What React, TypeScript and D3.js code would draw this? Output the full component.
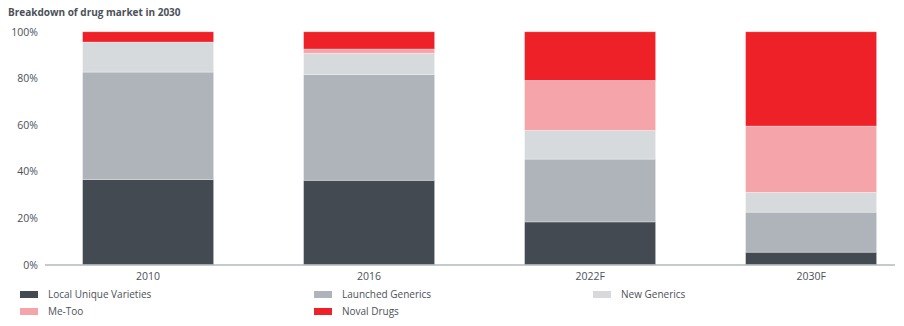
import React from "react";
import * as d3 from "d3";

const categories = ["2010", "2016", "2022F", "2030F"];
const seriesNames = ["Local Unique Varieties", "Launched Generics", "New Generics", "Me-Too", "Noval Drugs"];
const localUnique = [36.5, 36.2, 18.3, 5.3];
const launchedGenerics = [46.2, 45.5, 27.0, 17.2];
const newGenerics = [12.9, 9.1, 12.3, 8.5];
const meToo = [0, 1.8, 21.5, 28.5];
const novalDrugs = [4.4, 7.4, 20.9, 40.5];
const yTicks = [0, 20, 40, 60, 80, 100];
const colors = ["#444a52", "#aeb4ba", "#d7dadd", "#f5a4aa", "#ee2128"];

const W = 904, H = 326;
const font = "'Open Sans', 'Noto Sans', sans-serif";

export default function App() {
  const rows = categories.map((c, i) => ({
    cat: c,
    s0: localUnique[i], s1: launchedGenerics[i], s2: newGenerics[i], s3: meToo[i], s4: novalDrugs[i],
  }));
  const keys = ["s0", "s1", "s2", "s3", "s4"];
  const stacked = d3.stack<any>().keys(keys)(rows);
  const x = d3.scaleBand().domain(categories).range([37.6, 921.6]).paddingInner(0.407).paddingOuter(0.2035);
  const y = d3.scaleLinear().domain([0, 100]).range([264.5, 31.8]);
  const legendPos = [[20, 294], [314, 294], [593, 294], [20, 311], [314, 311]];
  return (
    <svg width={W} height={H} style={{ position: "absolute", left: 0, top: 0 }}>
      <text x={8} y={16} fontFamily={font} fontSize={10} fontWeight={700} fill="#4b5159">Breakdown of drug market in 2030</text>
      {yTicks.map(t => (
        <text key={t} x={38} y={y(t) + 4} textAnchor="end" fontFamily={font} fontSize={10.5} fill="#4b5159">{t}%</text>
      ))}
      {stacked.map((layer, li) => (
        <g key={li}>
          {layer.map((d, i) => {
            const h = y(d[0]) - y(d[1]);
            if (h <= 0) return null;
            return (
              <rect key={i} x={x(categories[i])} y={y(d[1])} width={x.bandwidth()} height={h}
                fill={colors[li]} stroke="#ffffff" strokeOpacity={0.5} strokeWidth={0.6} />
            );
          })}
        </g>
      ))}
      <line x1={45} x2={895} y1={y(0) + 0.5} y2={y(0) + 0.5} stroke="#8d949b" strokeWidth={1.2} />
      {categories.map(c => (
        <text key={c} x={(x(c) as number) + x.bandwidth() / 2} y={280} textAnchor="middle" fontFamily={font} fontSize={10.5} fill="#4b5159">{c}</text>
      ))}
      {seriesNames.map((n, i) => (
        <g key={n}>
          <rect x={legendPos[i][0]} y={legendPos[i][1] - 3} width={18} height={7} fill={colors[i]} />
          <text x={legendPos[i][0] + 28} y={legendPos[i][1] + 4} fontFamily={font} fontSize={10} fill="#4b5159">{n}</text>
        </g>
      ))}
    </svg>
  );
}
